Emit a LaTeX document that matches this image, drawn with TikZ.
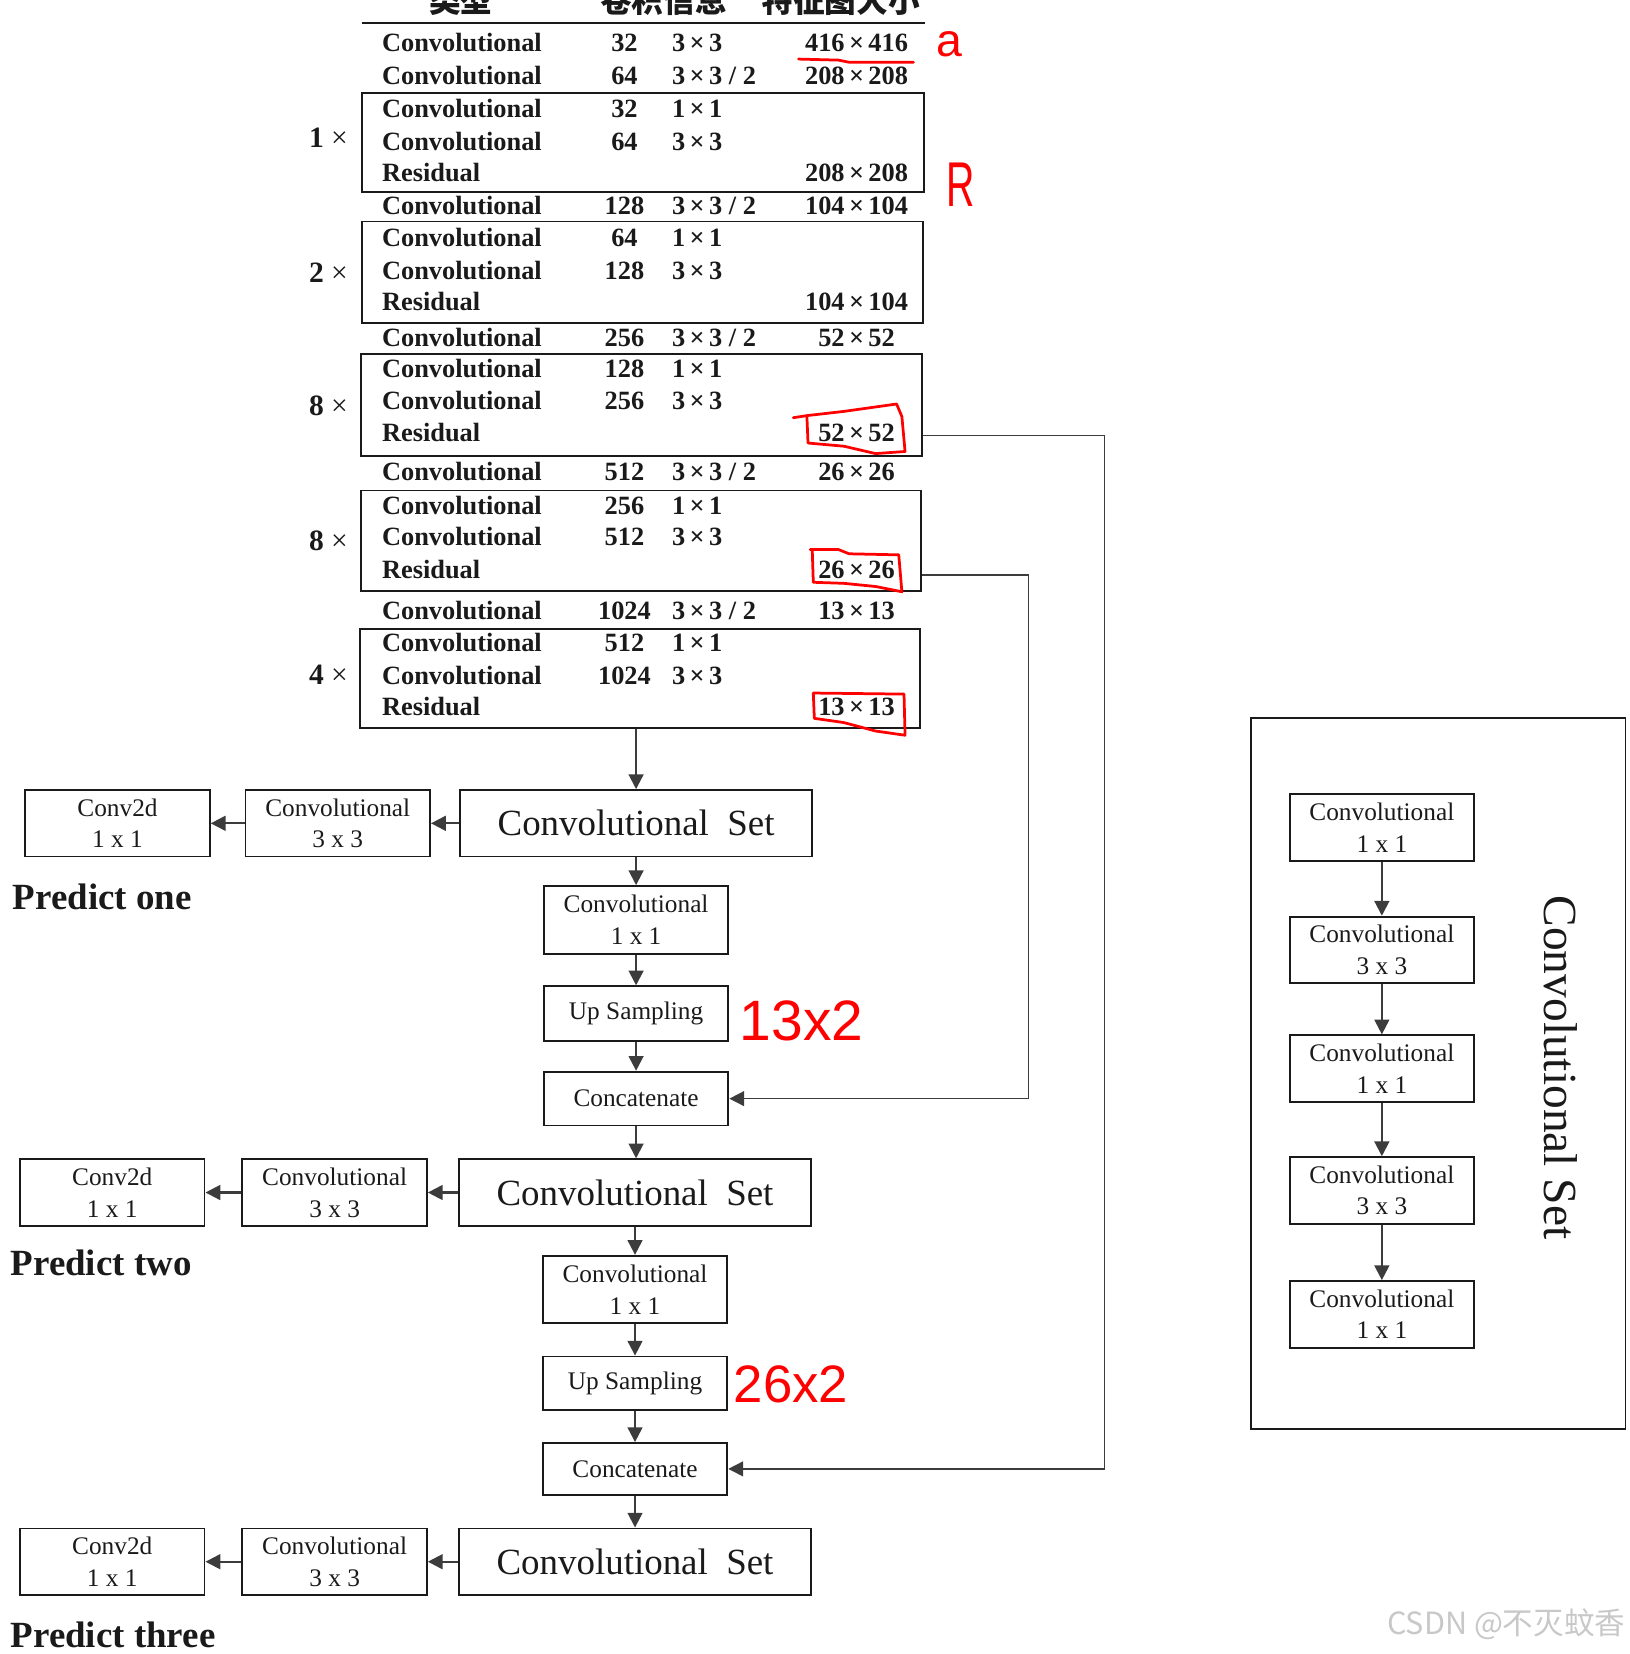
\documentclass[tikz,border=0pt]{standalone}
\usepackage{fontspec}
\setmainfont{Liberation Serif}
\newfontfamily\cjk{Noto Sans CJK SC}
\newfontfamily\hand{Liberation Sans}
\usetikzlibrary{arrows.meta,positioning,calc}
\definecolor{ink}{HTML}{1A1A1A}
\definecolor{wire}{HTML}{3C3C3C}
\definecolor{pen}{HTML}{FF0000}
\definecolor{wmgray}{HTML}{C8C8C8}
\newcommand{\tabfont}{\fontsize{25}{30}\selectfont\bfseries}
\newcommand{\boxfont}{\fontsize{24}{30}\selectfont}
\newcommand{\setfont}{\fontsize{35}{40}\selectfont}
\newcommand{\xby}[2]{#1\,×\,#2}

\begin{document}
\begin{tikzpicture}[x=1pt, y=-1pt,
  head/.style={font={\cjk\fontsize{30}{36}\selectfont\bfseries}, text=ink, inner sep=0pt},
  cell/.style={font=\tabfont, text=ink, inner sep=0pt, text height=17pt, text depth=0pt},
  typ/.style={cell, anchor=west},
  ker/.style={cell, anchor=west},
  rep/.style={anchor=east, font=\fontsize{28}{30}\selectfont, text=ink, inner sep=0pt},
  blk/.style={draw=ink, line width=1.8pt, inner sep=0pt},
  cbox/.style={draw=ink, line width=1.8pt, align=center, font=\boxfont, text=ink,
               inner sep=0pt, minimum width=175pt, minimum height=63pt},
  setbox/.style={cbox, font=\setfont, minimum width=333pt},
  pred/.style={anchor=west, font=\fontsize{35}{40}\selectfont\bfseries, text=ink, inner sep=0pt},
  arr/.style={-{Triangle[length=14pt,width=14pt]}, wire, line width=2pt},
  pen/.style={draw=pen, line width=2.6pt, line join=round, line cap=round},
  note/.style={text=pen, inner sep=0pt}
]
\useasboundingbox (0,0) rectangle (1545,1568);

% table header
\node[head] (hd1) at (437,0) {类型};
\node[head] (hd2) at (629,0) {卷积信息};
\node[head] (hd3) at (797,0) {特征图大小};
\draw[ink, line width=2.2pt] (343,22) -- (877,22);

% residual blocks
\node[blk, minimum width=533pt, minimum height=94pt] (blk1) at (609.5,135) {};
\node[blk, minimum width=532pt, minimum height=96pt] (blk2) at (609,258) {};
\node[blk, minimum width=532pt, minimum height=96pt] (blk3) at (608,384) {};
\node[blk, minimum width=531pt, minimum height=95pt] (blk4) at (607.5,512.5) {};
\node[blk, minimum width=531pt, minimum height=94pt] (blk5) at (606.5,643) {};
\node[rep] (rep1) at (330,131) {\textbf{1} ×};
\node[rep] (rep2) at (330,259) {\textbf{2} ×};
\node[rep] (rep3) at (330,385) {\textbf{8} ×};
\node[rep] (rep4) at (330,513) {\textbf{8} ×};
\node[rep] (rep5) at (330,640) {\textbf{4} ×};

% table rows
\foreach [count=\i] \y/\t/\n/\k/\s in {
  40/Convolutional/32/{\xby33}/{\xby{416}{416}},
  72/Convolutional/64/{\xby33 / 2}/{\xby{208}{208}},
  103/Convolutional/32/{\xby11}/{},
  134/Convolutional/64/{\xby33}/{},
  164/Residual/{}/{}/{\xby{208}{208}},
  195/Convolutional/128/{\xby33 / 2}/{\xby{104}{104}},
  225/Convolutional/64/{\xby11}/{},
  256/Convolutional/128/{\xby33}/{},
  286/Residual/{}/{}/{\xby{104}{104}},
  320/Convolutional/256/{\xby33 / 2}/{\xby{52}{52}},
  349/Convolutional/128/{\xby11}/{},
  380/Convolutional/256/{\xby33}/{},
  410/Residual/{}/{}/{\xby{52}{52}},
  447/Convolutional/512/{\xby33 / 2}/{\xby{26}{26}},
  479/Convolutional/256/{\xby11}/{},
  509/Convolutional/512/{\xby33}/{},
  540/Residual/{}/{}/{\xby{26}{26}},
  579/Convolutional/1024/{\xby33 / 2}/{\xby{13}{13}},
  609/Convolutional/512/{\xby11}/{},
  640/Convolutional/1024/{\xby33}/{},
  670/Residual/{}/{}/{\xby{13}{13}}}{
  \node[typ] (t\i) at (362,\y) {\t};
  \node[cell] (n\i) at (592,\y) {\n};
  \node[ker] (k\i) at (637,\y) {\k};
  \node[cell] (s\i) at (812,\y) {\s};
}

% detection head, scale one
\node[setbox] (set1) at (603,780.5) {Convolutional\ \ Set};
\node[cbox, left=27pt of set1] (c33a) {Convolutional\\3 x 3};
\node[cbox, left=32pt of c33a] (c2da) {Conv2d\\1 x 1};
\node[pred] (pred1) at (12,850) {Predict one};
\node[cbox, minimum height=64pt] (c11a) at (603,872) {Convolutional\\1 x 1};
\node[cbox, minimum height=52pt] (up1) at (603,961) {Up Sampling};
\node[cbox, minimum height=51pt] (cat1) at (603,1041.5) {Concatenate};

% scale two
\node[setbox] (set2) at (602,1130.5) {Convolutional\ \ Set};
\node[cbox, left=29pt of set2] (c33b) {Convolutional\\3 x 3};
\node[cbox, left=34pt of c33b] (c2db) {Conv2d\\1 x 1};
\node[pred] (pred2) at (10,1197) {Predict two};
\node[cbox, minimum height=64pt] (c11b) at (602,1222.5) {Convolutional\\1 x 1};
\node[cbox, minimum height=51pt] (up2) at (602,1311.5) {Up Sampling};
\node[cbox, minimum height=49pt] (cat2) at (602,1392.5) {Concatenate};

% scale three
\node[setbox] (set3) at (602,1480.5) {Convolutional\ \ Set};
\node[cbox, left=29pt of set3] (c33c) {Convolutional\\3 x 3};
\node[cbox, left=34pt of c33c] (c2dc) {Conv2d\\1 x 1};
\node[pred] (pred3) at (10,1550) {Predict three};

\draw[arr] (blk5.south -| set1.north) -- (set1.north);
\draw[arr] (set1.south) -- (c11a.north);
\draw[arr] (c11a.south) -- (up1.north);
\draw[arr] (up1.south) -- (cat1.north);
\draw[arr] (cat1.south) -- (cat1.south |- set2.north);
\draw[arr] (set2.south) -- (c11b.north);
\draw[arr] (c11b.south) -- (up2.north);
\draw[arr] (up2.south) -- (cat2.north);
\draw[arr] (cat2.south) -- (set3.north);
\foreach \a/\b/\c in {set1/c33a/c2da, set2/c33b/c2db, set3/c33c/c2dc}{
  \draw[arr] (\a.west) -- (\b.east);
  \draw[arr] (\b.west) -- (\c.east);
}

% routes from the backbone
\coordinate (bendB) at (975,0);
\coordinate (bendA) at (1047,0);
\draw[arr, line width=1.5pt] ([yshift=-5pt]blk4.east |- s17) -| (bendB |- cat1.east) -- (cat1.east);
\draw[arr, line width=1.5pt] ([yshift=-3pt]blk3.east |- s13) -| (bendA |- cat2.east) -- (cat2.east);

% convolutional set
\node[blk, minimum width=355pt, minimum height=674pt] (cset) at (1363.5,1018) {};
\node[cbox] (rp1) at (1310,784.5) {Convolutional\\1 x 1};
\node[cbox] (rp2) at (1310,900.5) {Convolutional\\3 x 3};
\node[cbox] (rp3) at (1310,1013) {Convolutional\\1 x 1};
\node[cbox] (rp4) at (1310,1128.5) {Convolutional\\3 x 3};
\node[cbox] (rp5) at (1310,1246) {Convolutional\\1 x 1};
\foreach \a/\b in {rp1/rp2, rp2/rp3, rp3/rp4, rp4/rp5}
  \draw[arr] (\a.south) -- (\b.north);
\node[rotate=-90, font=\fontsize{45}{50}\selectfont, text=ink, inner sep=0pt] (csettitle)
  at (1480,1012) {Convolutional Set};

% red notes
\node[note, font={\hand\fontsize{44}{44}\selectfont}] (noteA) at (900,42) {a};
\node[note, font={\hand\fontsize{60}{60}\selectfont}] (noteR) at (911,175) {\scalebox{0.62}[1]{R}};
\node[note, font={\hand\fontsize{54}{54}\selectfont}] (noteUp1) at (760,968) {13x2};
\node[note, font={\hand\fontsize{50}{50}\selectfont}] (noteUp2) at (750,1312) {26x2};
\draw[pen] (757,56) -- (795,57) -- (805,59) -- (866,59);
\draw[pen] (752,396) -- (765,394) -- (800,390) -- (850,383) -- (855,395) -- (858,428)
  -- (830,430) -- (800,423) -- (766,420) -- (765,396);
\draw[pen] (768,521) -- (795,521) -- (805,525) -- (852,526) -- (855,561) -- (830,556)
  -- (800,553) -- (771,552) -- (770,521);
\draw[pen] (771,657) -- (857,658) -- (858,697) -- (830,693) -- (800,685) -- (772,681) -- (771,657);

% watermark
\node[anchor=east, font={\cjk\fontsize{29}{30}\selectfont}, text=wmgray, inner sep=0pt] (wm)
  at (1541,1540) {CSDN @不灭蚊香};
\end{tikzpicture}
\end{document}
